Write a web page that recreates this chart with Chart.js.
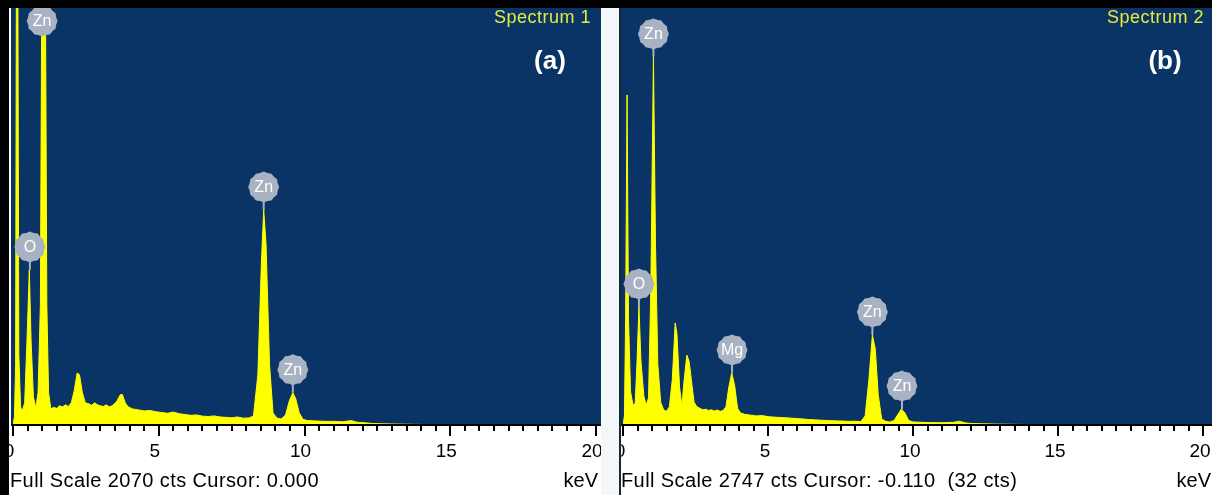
<!DOCTYPE html>
<html><head><meta charset="utf-8">
<script src="https://cdn.jsdelivr.net/npm/chart.js@4.4.1/dist/chart.umd.min.js"></script>
<style>
html,body{margin:0;padding:0;background:#fff;}
#wrap{position:relative;width:1212px;height:495px;overflow:hidden;}
canvas{position:absolute;top:0;}
</style></head><body>
<div id="wrap">
<canvas id="ca" width="606" height="495" style="left:0;width:606px;height:495px"></canvas>
<canvas id="cb" width="606" height="495" style="left:606px;width:606px;height:495px"></canvas>
</div>
<script>
// ---- data ----
const tickLabelsX = ['0', '5', '10', '15', '20'];

const fullScaleA = 2070;
const energyA = [0.00,0.05,0.09,0.12,0.16,0.20,0.26,0.32,0.40,0.48,0.56,0.62,0.70,0.78,0.86,0.94,1.00,1.10,1.16,1.22,1.30,1.40,1.50,1.60,1.70,1.80,1.90,2.00,2.10,2.20,2.28,2.38,2.48,2.60,2.70,2.80,2.90,3.00,3.10,3.20,3.30,3.40,3.55,3.68,3.75,3.85,3.95,4.10,4.30,4.50,4.70,4.90,5.10,5.30,5.50,5.70,5.90,6.10,6.30,6.50,6.70,6.90,7.10,7.30,7.50,7.70,7.90,8.10,8.25,8.40,8.52,8.60,8.68,8.80,8.92,9.05,9.20,9.35,9.48,9.60,9.70,9.82,9.95,10.10,10.40,10.70,11.00,11.30,11.60,11.80,12.00,12.30,12.60,13.00,13.40,13.80,14.00,14.20,20.00];
const countsA = [0,40,300,2600,2600,350,90,70,110,420,770,420,140,85,160,600,2600,2600,600,160,80,88,82,95,90,100,92,110,170,258,250,160,110,105,98,110,100,95,92,100,90,95,115,150,152,110,90,80,75,70,72,66,62,58,64,56,52,48,50,44,42,45,40,38,36,40,34,35,45,250,800,1067,900,300,60,35,30,50,120,160,130,60,28,22,20,18,18,16,22,14,12,8,6,5,4,3,3,0,0];
const peakNamesA = ['Zn', 'O', 'Zn', 'Zn'];
const peakKeVA = [1.00, 0.58, 8.60, 9.60];
const peakCtsA = [2600, 770, 1067, 160];

const fullScaleB = 2747;
const energyB = [0.00,0.05,0.09,0.14,0.19,0.26,0.34,0.42,0.48,0.55,0.62,0.72,0.80,0.88,0.96,1.05,1.12,1.20,1.30,1.40,1.50,1.60,1.70,1.80,1.86,1.95,2.03,2.10,2.20,2.28,2.38,2.45,2.55,2.65,2.75,2.85,2.95,3.05,3.15,3.25,3.35,3.45,3.55,3.65,3.75,3.85,3.95,4.05,4.20,4.40,4.60,4.80,5.00,5.20,5.40,5.60,5.80,6.00,6.20,6.40,6.60,6.80,7.00,7.20,7.40,7.60,7.80,8.00,8.20,8.35,8.48,8.60,8.70,8.80,8.92,9.05,9.20,9.35,9.48,9.60,9.72,9.85,10.00,10.30,10.60,11.00,11.40,11.60,11.80,12.00,12.40,12.80,13.20,13.60,14.00,14.20,20.00];
const countsB = [0,60,700,2174,700,220,135,140,400,777,420,190,130,180,900,2425,1200,400,150,100,90,120,300,672,600,250,125,280,461,420,260,150,120,110,100,104,96,100,92,98,90,95,120,250,343,260,110,80,70,65,60,62,55,52,50,48,45,42,40,36,34,32,30,28,27,26,24,25,22,60,300,593,500,200,40,25,20,30,70,105,80,30,20,18,16,15,18,25,14,10,8,6,5,4,3,0,0];
const peakNamesB = ['Zn', 'O', 'Mg', 'Zn', 'Zn'];
const peakKeVB = [1.05, 0.55, 3.76, 8.60, 9.62];
const peakCtsB = [2425, 777, 343, 593, 105];

// ---- drawing helpers ----
const NAVY = '#0b3466';
const BADGE = '#a9b2c2';
const FONT = '"Liberation Sans", Arial, sans-serif';

const decorPlugin = {
  id: 'edsDecor',
  beforeDraw(chart, args, o) {
    const ctx = chart.ctx;
    ctx.save();
    ctx.fillStyle = '#ffffff';
    ctx.fillRect(0, 0, chart.width, chart.height);
    ctx.fillStyle = NAVY;
    ctx.fillRect(o.navyLeft, 8, o.navyRight - o.navyLeft, chart.chartArea.bottom - 8);
    ctx.restore();
  },
  afterDraw(chart, args, o) {
    const ctx = chart.ctx;
    const xs = chart.scales.x, ys = chart.scales.y;
    const area = chart.chartArea;
    const axisY = area.bottom;
    ctx.save();
    // axis line and ticks
    ctx.fillStyle = '#000';
    ctx.fillRect(o.navyLeft, axisY - 1, o.axisRight - o.navyLeft, 2);
    for (let k = 0; k <= 40; k++) {
      const v = k * 0.5;
      const px = Math.round(xs.getPixelForValue(v));
      const len = (k % 10 === 0) ? 11 : 6;
      ctx.fillRect(px - 1, axisY, 2, len);
    }
    // peak badges
    o.names.forEach((name, i) => {
      const px = xs.getPixelForValue(o.keV[i]);
      const py = ys.getPixelForValue(o.cts[i]);
      const cy = Math.max(py - 23, 21);
      const r = 14.5;
      if (py > cy + r) {
        ctx.strokeStyle = BADGE;
        ctx.lineWidth = 2;
        ctx.beginPath();
        ctx.moveTo(px, cy + r - 1);
        ctx.lineTo(px, py);
        ctx.stroke();
      }
      ctx.fillStyle = BADGE;
      ctx.beginPath();
      for (let a = 0; a < 24; a++) {
        const ang = a / 24 * Math.PI * 2;
        const rr = (a % 2 === 0) ? r + 1 : r;
        const xx = px + rr * Math.cos(ang), yy = cy + rr * Math.sin(ang);
        if (a === 0) ctx.moveTo(xx, yy); else ctx.lineTo(xx, yy);
      }
      ctx.closePath();
      ctx.fill();
      ctx.fillStyle = '#ffffff';
      ctx.font = '16px ' + FONT;
      ctx.textAlign = 'center';
      ctx.textBaseline = 'middle';
      ctx.fillText(name, px, cy + 1);
    });
    // titles
    ctx.fillStyle = '#e3ec3c';
    ctx.font = '18px ' + FONT;
    ctx.letterSpacing = '0.5px';
    ctx.textAlign = 'right';
    ctx.textBaseline = 'middle';
    ctx.fillText(o.spectrum, o.specRight, 18);
    ctx.letterSpacing = '0px';
    ctx.fillStyle = '#ffffff';
    ctx.font = 'bold 26px ' + FONT;
    ctx.textAlign = 'center';
    ctx.fillText(o.panel, o.panelX, 62);
    // footer texts
    ctx.fillStyle = '#000';
    ctx.font = '20px ' + FONT;
    ctx.letterSpacing = '0.4px';
    ctx.textAlign = 'left';
    ctx.fillText(o.footer, o.footerX, 481);
    ctx.letterSpacing = '0px';
    ctx.textAlign = 'right';
    ctx.fillText('keV', o.kevRight, 481);
    // frames
    ctx.fillStyle = '#000';
    ctx.fillRect(0, 0, chart.width, 8);
    o.frames.forEach(f => { ctx.fillStyle = f[4]; ctx.fillRect(f[0], f[1], f[2], f[3]); });
    ctx.restore();
  }
};

function makeChart(id, energy, counts, fullScale, pad, labelShift, decor) {
  const pts = energy.map((e, i) => ({ x: e, y: counts[i] }));
  return new Chart(document.getElementById(id), {
    type: 'line',
    data: {
      datasets: [{
        data: pts,
        borderColor: '#ffff00',
        backgroundColor: '#ffff00',
        borderWidth: 1,
        fill: 'origin',
        pointRadius: 0,
        tension: 0
      }]
    },
    options: {
      responsive: false,
      animation: false,
      devicePixelRatio: 1,
      layout: { padding: { left: pad[0], right: pad[1], top: 8, bottom: 0 } },
      plugins: {
        legend: { display: false },
        tooltip: { enabled: false },
        edsDecor: decor
      },
      scales: {
        x: {
          type: 'linear',
          min: 0, max: 20,
          grid: { display: false },
          border: { display: false },
          ticks: {
            stepSize: 5,
            autoSkip: false,
            maxRotation: 0,
            padding: 7,
            labelOffset: labelShift,
            color: '#000',
            font: { size: 19, family: FONT },
            callback: (v, i) => tickLabelsX[i]
          },
          afterFit: (s) => { s.height = 70; s.paddingLeft = 0; s.paddingRight = 0; }
        },
        y: { display: false, min: 0, max: fullScale }
      }
    },
    plugins: [decorPlugin]
  });
}

makeChart('ca', energyA, countsA, fullScaleA, [13, 10], -4, {
  navyLeft: 11, navyRight: 601, axisRight: 601,
  names: peakNamesA, keV: peakKeVA, cts: peakCtsA,
  spectrum: 'Spectrum 1', specRight: 591, panel: '(a)', panelX: 550,
  footer: 'Full Scale 2070 cts Cursor: 0.000', footerX: 10, kevRight: 598,
  frames: [[0, 0, 9, 495, '#000'], [601, 8, 5, 487, '#f3f7f9']]
});
makeChart('cb', energyB, countsB, fullScaleB, [17, 9], -3, {
  navyLeft: 14, navyRight: 606, axisRight: 606,
  names: peakNamesB, keV: peakKeVB, cts: peakCtsB,
  spectrum: 'Spectrum 2', specRight: 598, panel: '(b)', panelX: 559,
  footer: 'Full Scale 2747 cts Cursor: -0.110  (32 cts)', footerX: 15, kevRight: 605,
  frames: [[0, 8, 13, 487, '#f3f7f9'], [13, 8, 2, 487, '#1b2633']]
});
</script>
</body></html>
